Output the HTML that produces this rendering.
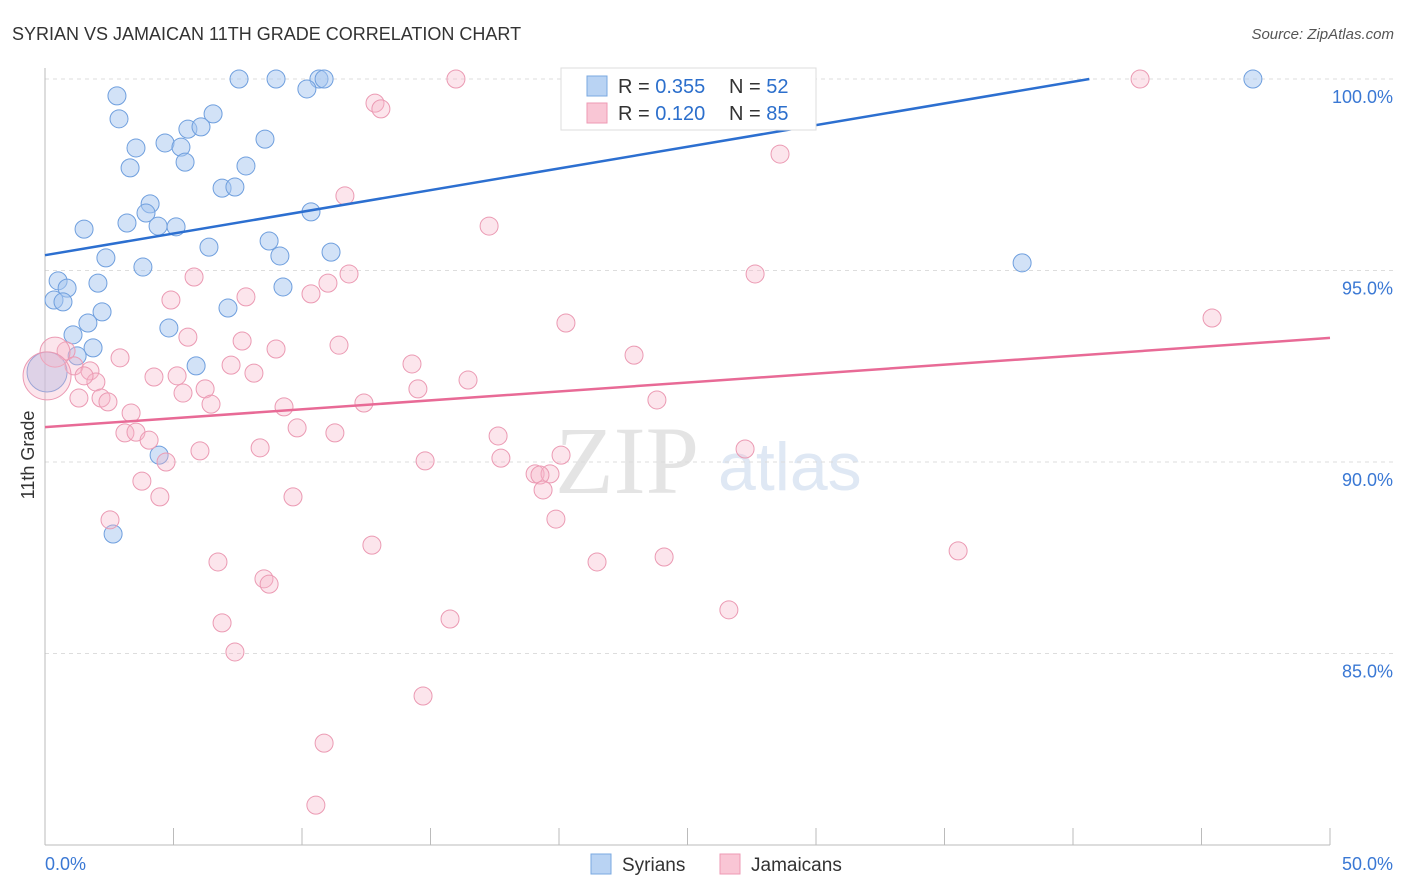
<!DOCTYPE html>
<html><head><meta charset="utf-8">
<style>
body{margin:0;background:#fff;font-family:"Liberation Sans",sans-serif;}
#wrap{position:relative;width:1406px;height:892px;overflow:hidden;}
</style></head>
<body>
<div id="wrap">
<svg id="chart" width="1406" height="892" xmlns="http://www.w3.org/2000/svg">
<text x="12" y="40" font-size="18" fill="#333">SYRIAN VS JAMAICAN 11TH GRADE CORRELATION CHART</text>
<text x="1394" y="39" font-size="15" fill="#555" font-style="italic" text-anchor="end">Source: ZipAtlas.com</text>
<text x="555" y="493" font-size="96" fill="#e4e4e4" font-family="Liberation Serif,serif">ZIP</text>
<text x="718" y="490" font-size="68" fill="#dfe8f4">atlas</text>
<g id="grid"></g>
<g id="axes"></g>
<g id="pts"></g>
<g id="lines"></g>
<text transform="translate(34,455) rotate(-90)" font-size="18" fill="#333" text-anchor="middle">11th Grade</text>
<g>
<rect x="561" y="68" width="255" height="62" fill="#fff" stroke="#ddd"/>
<rect x="587" y="76" width="20" height="20" fill="#b9d3f3" stroke="#7aa8e0"/>
<rect x="587" y="103" width="20" height="20" fill="#f9c6d5" stroke="#ee9ab4"/>
<text x="618" y="93" font-size="20" fill="#333">R = <tspan fill="#2c6fcc">0.355</tspan></text>
<text x="729" y="93" font-size="20" fill="#333">N = <tspan fill="#2c6fcc">52</tspan></text>
<text x="618" y="120" font-size="20" fill="#333">R = <tspan fill="#2c6fcc">0.120</tspan></text>
<text x="729" y="120" font-size="20" fill="#333">N = <tspan fill="#2c6fcc">85</tspan></text>
</g>
<g>
<rect x="591" y="854" width="20" height="20" fill="#b9d3f3" stroke="#7aa8e0"/>
<text x="622" y="871" font-size="19" fill="#333">Syrians</text>
<rect x="720" y="854" width="20" height="20" fill="#f9c6d5" stroke="#ee9ab4"/>
<text x="751" y="871" font-size="19" fill="#333">Jamaicans</text>
</g>
</svg>
</div>
<script>
const yTicks=[100,95,90,85];
const yTickLabels=["100.0%","95.0%","90.0%","85.0%"];
const xTickLabels=["0.0%","50.0%"];
const syrianPx=[[239,79],[276,79],[319,79],[324,79],[760,79],[1253,79],[117,96],[307,89],[119,119],[213,114],[188,129],[201,127],[165,143],[136,148],[181,147],[265,139],[130,168],[185,162],[246,166],[222,188],[235,187],[150,204],[146,213],[127,223],[158,226],[176,227],[84,229],[311,212],[209,247],[269,241],[331,252],[280,256],[106,258],[143,267],[1022,263],[58,281],[67,288],[98,283],[54,300],[63,302],[283,287],[102,312],[228,308],[88,323],[169,328],[73,335],[93,348],[77,356],[196,366],[159,455],[113,534],[47,372]];
const jamaicanPx=[[456,79],[726,79],[1140,79],[375,103],[381,109],[780,154],[345,196],[489,226],[194,277],[755,274],[349,274],[328,283],[311,294],[171,300],[246,297],[1212,318],[566,323],[188,337],[242,341],[339,345],[276,349],[634,355],[120,358],[66,351],[74,366],[231,365],[412,364],[90,371],[254,373],[154,377],[177,376],[468,380],[96,382],[84,376],[205,389],[418,389],[183,393],[79,398],[101,398],[108,402],[211,404],[364,403],[657,400],[284,407],[131,413],[297,428],[125,433],[136,432],[149,440],[335,433],[498,436],[745,449],[200,451],[260,448],[561,455],[166,462],[425,461],[501,458],[535,474],[550,474],[540,475],[142,481],[543,490],[160,497],[293,497],[110,520],[556,519],[372,545],[958,551],[664,557],[597,562],[218,562],[264,579],[269,584],[729,610],[222,623],[450,619],[235,652],[423,696],[324,743],[316,805],[55,352],[47,376]];
const syrianX=syrianPx.map(p=>+((p[0]-45)*50/1285).toFixed(2));
const syrianY=syrianPx.map(p=>+(100-(p[1]-79)*5/191.5).toFixed(2));
const jamaicanX=jamaicanPx.map(p=>+((p[0]-45)*50/1285).toFixed(2));
const jamaicanY=jamaicanPx.map(p=>+(100-(p[1]-79)*5/191.5).toFixed(2));
const syrianSize=syrianX.map((v,i)=>i===syrianX.length-1?20:9);
const jamaicanSize=jamaicanX.map((v,i)=>i>=jamaicanX.length-2?(i===jamaicanX.length-1?24:15):9);
const syrianTrend=[95.40,101.06];
const jamaicanTrend=[90.91,93.24];

const NS="http://www.w3.org/2000/svg";
const xs=v=>45+v*1285/50;
const ys=v=>79+(100-v)*191.5/5;
function mk(tag,attrs,parent){const e=document.createElementNS(NS,tag);for(const k in attrs)e.setAttribute(k,attrs[k]);parent.appendChild(e);return e;}
const grid=document.getElementById('grid'),axes=document.getElementById('axes'),pts=document.getElementById('pts'),lines=document.getElementById('lines');
yTicks.forEach((t,i)=>{
  const l=mk('line',{x1:45,x2:1394,y1:ys(t),y2:ys(t),stroke:'#ddd','stroke-dasharray':'4,4'},grid);
  
  
  const tx=mk('text',{x:1393,y:ys(t)+24,'font-size':18,fill:'#3a78d4','text-anchor':'end'},axes);
  tx.textContent=yTickLabels[i];
  
  
});
const ya=mk('line',{x1:45,x2:45,y1:68,y2:845,stroke:'#bbb'},axes);


const xa=mk('line',{x1:45,x2:1330,y1:845,y2:845,stroke:'#bbb'},axes);


for(let i=0;i<=10;i++){
  const t=mk('line',{x1:xs(i*5),x2:xs(i*5),y1:828,y2:845,stroke:'#bbb'},axes);
  
  
}
[[0,45,'start'],[50,1393,'end']].forEach((a,i)=>{
  const tx=mk('text',{x:a[1],y:870,'font-size':18,fill:'#3a78d4','text-anchor':a[2]},axes);
  tx.textContent=xTickLabels[i];
  
  
});
syrianX.forEach((x,i)=>{
  const c=mk('circle',{cx:xs(x),cy:ys(syrianY[i]),r:syrianSize[i],fill:'rgba(165,198,240,0.5)',stroke:'#6f9fde','stroke-width':1},pts);
  
  
});
jamaicanX.forEach((x,i)=>{
  const c=mk('circle',{cx:xs(x),cy:ys(jamaicanY[i]),r:jamaicanSize[i],fill:'rgba(246,180,200,0.35)',stroke:'#eb9ab3','stroke-width':1},pts);
  
  
});
const bx1=Math.min(50,(100-syrianTrend[0])/((syrianTrend[1]-syrianTrend[0])/50));
const by1=syrianTrend[0]+(syrianTrend[1]-syrianTrend[0])*bx1/50;
const bl=mk('line',{x1:xs(0),y1:ys(syrianTrend[0]),x2:xs(bx1),y2:ys(by1),stroke:'#2c6fd0','stroke-width':2.5},lines);


const pl=mk('line',{x1:xs(0),y1:ys(jamaicanTrend[0]),x2:xs(50),y2:ys(jamaicanTrend[1]),stroke:'#e86a96','stroke-width':2.5},lines);


</script>
</body></html>
